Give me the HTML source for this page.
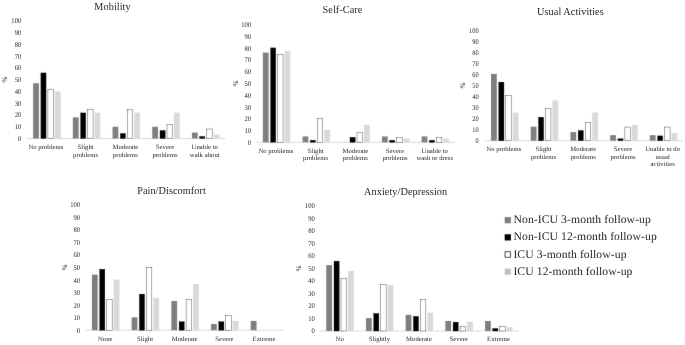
<!DOCTYPE html>
<html><head><meta charset="utf-8"><title>EQ-5D charts</title>
<style>html,body{margin:0;padding:0;background:#fff;}body{width:685px;height:345px;overflow:hidden;}svg{display:block;}text{font-family:"Liberation Serif", serif;fill:#262626;text-rendering:geometricPrecision;}</style>
</head><body>
<svg width="685" height="345" viewBox="0 0 685 345">
<defs>
<filter id="soft" x="0" y="0" width="685" height="345" filterUnits="userSpaceOnUse" color-interpolation-filters="sRGB"><feConvolveMatrix order="3" kernelMatrix="0.0052 0.0619 0.0052 0.0619 0.7314 0.0619 0.0052 0.0619 0.0052" edgeMode="duplicate" preserveAlpha="true"/></filter>
<filter id="softt" x="0" y="0" width="685" height="345" filterUnits="userSpaceOnUse" color-interpolation-filters="sRGB"><feConvolveMatrix order="3" kernelMatrix="0.0000 0.0038 0.0000 0.0038 0.9847 0.0038 0.0000 0.0038 0.0000" edgeMode="duplicate" preserveAlpha="false"/></filter>
</defs>
<rect x="0" y="0" width="685" height="345" fill="#ffffff"/>
<g filter="url(#soft)">
<rect x="0" y="0" width="685" height="345" fill="#ffffff"/>
<g>
<line x1="26.90" y1="138.50" x2="225.40" y2="138.50" stroke="#d0d0d0" stroke-width="0.8"/>
<rect x="33.15" y="83.23" width="5.75" height="55.27" fill="#7f7f7f"/>
<rect x="40.90" y="72.92" width="5.15" height="65.58" fill="#000" stroke="#000" stroke-width="0.30"/>
<rect x="47.90" y="89.39" width="5.45" height="49.11" fill="#fff" stroke="#1c1c1c" stroke-width="0.38"/>
<rect x="54.90" y="91.46" width="5.75" height="47.04" fill="#d9d9d9"/>
<rect x="72.85" y="117.33" width="5.75" height="21.17" fill="#7f7f7f"/>
<rect x="80.60" y="112.91" width="5.15" height="25.59" fill="#000" stroke="#000" stroke-width="0.30"/>
<rect x="87.60" y="109.38" width="5.45" height="29.12" fill="#fff" stroke="#1c1c1c" stroke-width="0.38"/>
<rect x="94.60" y="112.63" width="5.75" height="25.87" fill="#d9d9d9"/>
<rect x="112.55" y="126.74" width="5.75" height="11.76" fill="#7f7f7f"/>
<rect x="120.30" y="133.49" width="5.15" height="5.01" fill="#000" stroke="#000" stroke-width="0.30"/>
<rect x="127.30" y="109.38" width="5.45" height="29.12" fill="#fff" stroke="#1c1c1c" stroke-width="0.38"/>
<rect x="134.30" y="112.63" width="5.75" height="25.87" fill="#d9d9d9"/>
<rect x="152.25" y="126.74" width="5.75" height="11.76" fill="#7f7f7f"/>
<rect x="160.00" y="130.55" width="5.15" height="7.95" fill="#000" stroke="#000" stroke-width="0.30"/>
<rect x="167.00" y="124.32" width="5.45" height="14.18" fill="#fff" stroke="#1c1c1c" stroke-width="0.38"/>
<rect x="174.00" y="112.63" width="5.75" height="25.87" fill="#d9d9d9"/>
<rect x="191.95" y="132.62" width="5.75" height="5.88" fill="#7f7f7f"/>
<rect x="199.70" y="136.43" width="5.15" height="2.07" fill="#000" stroke="#000" stroke-width="0.30"/>
<rect x="206.70" y="129.02" width="5.45" height="9.48" fill="#fff" stroke="#1c1c1c" stroke-width="0.38"/>
<rect x="213.70" y="134.50" width="5.75" height="4.00" fill="#d9d9d9"/>
</g>
<g>
<line x1="256.60" y1="142.30" x2="455.10" y2="142.30" stroke="#d0d0d0" stroke-width="0.8"/>
<rect x="262.85" y="52.57" width="5.75" height="89.73" fill="#7f7f7f"/>
<rect x="270.60" y="47.91" width="5.15" height="94.39" fill="#000" stroke="#000" stroke-width="0.30"/>
<rect x="277.60" y="54.38" width="5.45" height="87.92" fill="#fff" stroke="#1c1c1c" stroke-width="0.38"/>
<rect x="284.60" y="51.16" width="5.75" height="91.14" fill="#d9d9d9"/>
<rect x="302.55" y="136.42" width="5.75" height="5.88" fill="#7f7f7f"/>
<rect x="310.30" y="140.23" width="5.15" height="2.07" fill="#000" stroke="#000" stroke-width="0.30"/>
<rect x="317.30" y="118.35" width="5.45" height="23.95" fill="#fff" stroke="#1c1c1c" stroke-width="0.38"/>
<rect x="324.30" y="129.83" width="5.75" height="12.47" fill="#d9d9d9"/>
<rect x="350.00" y="137.29" width="5.15" height="5.01" fill="#000" stroke="#000" stroke-width="0.30"/>
<rect x="357.00" y="132.58" width="5.45" height="9.72" fill="#fff" stroke="#1c1c1c" stroke-width="0.38"/>
<rect x="364.00" y="124.90" width="5.75" height="17.40" fill="#d9d9d9"/>
<rect x="381.95" y="136.42" width="5.75" height="5.88" fill="#7f7f7f"/>
<rect x="389.70" y="140.23" width="5.15" height="2.07" fill="#000" stroke="#000" stroke-width="0.30"/>
<rect x="396.70" y="137.64" width="5.45" height="4.66" fill="#fff" stroke="#1c1c1c" stroke-width="0.38"/>
<rect x="403.70" y="138.54" width="5.75" height="3.76" fill="#d9d9d9"/>
<rect x="421.65" y="136.42" width="5.75" height="5.88" fill="#7f7f7f"/>
<rect x="429.40" y="140.23" width="5.15" height="2.07" fill="#000" stroke="#000" stroke-width="0.30"/>
<rect x="436.40" y="137.64" width="5.45" height="4.66" fill="#fff" stroke="#1c1c1c" stroke-width="0.38"/>
<rect x="443.40" y="138.54" width="5.75" height="3.76" fill="#d9d9d9"/>
</g>
<g>
<line x1="484.80" y1="140.70" x2="683.30" y2="140.70" stroke="#d0d0d0" stroke-width="0.8"/>
<rect x="491.05" y="73.91" width="5.75" height="66.79" fill="#7f7f7f"/>
<rect x="498.80" y="82.14" width="5.15" height="58.56" fill="#000" stroke="#000" stroke-width="0.30"/>
<rect x="505.80" y="95.27" width="5.45" height="45.43" fill="#fff" stroke="#1c1c1c" stroke-width="0.38"/>
<rect x="512.80" y="112.55" width="5.75" height="28.15" fill="#d9d9d9"/>
<rect x="530.75" y="126.68" width="5.75" height="14.02" fill="#7f7f7f"/>
<rect x="538.50" y="117.24" width="5.15" height="23.46" fill="#000" stroke="#000" stroke-width="0.30"/>
<rect x="545.50" y="108.74" width="5.45" height="31.96" fill="#fff" stroke="#1c1c1c" stroke-width="0.38"/>
<rect x="552.50" y="100.40" width="5.75" height="40.30" fill="#d9d9d9"/>
<rect x="570.45" y="132.09" width="5.75" height="8.61" fill="#7f7f7f"/>
<rect x="578.20" y="130.49" width="5.15" height="10.21" fill="#000" stroke="#000" stroke-width="0.30"/>
<rect x="585.20" y="122.54" width="5.45" height="18.16" fill="#fff" stroke="#1c1c1c" stroke-width="0.38"/>
<rect x="592.20" y="112.55" width="5.75" height="28.15" fill="#d9d9d9"/>
<rect x="610.15" y="135.18" width="5.75" height="5.52" fill="#7f7f7f"/>
<rect x="617.90" y="138.77" width="5.15" height="1.93" fill="#000" stroke="#000" stroke-width="0.30"/>
<rect x="624.90" y="127.07" width="5.45" height="13.63" fill="#fff" stroke="#1c1c1c" stroke-width="0.38"/>
<rect x="631.90" y="125.02" width="5.75" height="15.68" fill="#d9d9d9"/>
<rect x="649.85" y="135.18" width="5.75" height="5.52" fill="#7f7f7f"/>
<rect x="657.60" y="135.90" width="5.15" height="4.80" fill="#000" stroke="#000" stroke-width="0.30"/>
<rect x="664.60" y="127.07" width="5.45" height="13.63" fill="#fff" stroke="#1c1c1c" stroke-width="0.38"/>
<rect x="671.60" y="132.97" width="5.75" height="7.73" fill="#d9d9d9"/>
</g>
<g>
<line x1="85.70" y1="330.20" x2="284.20" y2="330.20" stroke="#d0d0d0" stroke-width="0.8"/>
<rect x="91.95" y="274.65" width="5.75" height="55.55" fill="#7f7f7f"/>
<rect x="99.70" y="269.28" width="5.15" height="60.92" fill="#000" stroke="#000" stroke-width="0.30"/>
<rect x="106.70" y="299.51" width="5.45" height="30.69" fill="#fff" stroke="#1c1c1c" stroke-width="0.38"/>
<rect x="113.70" y="279.54" width="5.75" height="50.66" fill="#d9d9d9"/>
<rect x="131.65" y="317.28" width="5.75" height="12.92" fill="#7f7f7f"/>
<rect x="139.40" y="294.11" width="5.15" height="36.09" fill="#000" stroke="#000" stroke-width="0.30"/>
<rect x="146.40" y="267.53" width="5.45" height="62.67" fill="#fff" stroke="#1c1c1c" stroke-width="0.38"/>
<rect x="153.40" y="297.85" width="5.75" height="32.35" fill="#d9d9d9"/>
<rect x="171.35" y="300.98" width="5.75" height="29.22" fill="#7f7f7f"/>
<rect x="179.10" y="321.70" width="5.15" height="8.50" fill="#000" stroke="#000" stroke-width="0.30"/>
<rect x="186.10" y="299.63" width="5.45" height="30.57" fill="#fff" stroke="#1c1c1c" stroke-width="0.38"/>
<rect x="193.10" y="284.05" width="5.75" height="46.15" fill="#d9d9d9"/>
<rect x="211.05" y="323.93" width="5.75" height="6.27" fill="#7f7f7f"/>
<rect x="218.80" y="321.70" width="5.15" height="8.50" fill="#000" stroke="#000" stroke-width="0.30"/>
<rect x="225.80" y="315.43" width="5.45" height="14.77" fill="#fff" stroke="#1c1c1c" stroke-width="0.38"/>
<rect x="232.80" y="320.92" width="5.75" height="9.28" fill="#d9d9d9"/>
<rect x="250.75" y="320.92" width="5.75" height="9.28" fill="#7f7f7f"/>
</g>
<g>
<line x1="320.00" y1="331.00" x2="518.50" y2="331.00" stroke="#d0d0d0" stroke-width="0.8"/>
<rect x="326.25" y="265.09" width="5.75" height="65.91" fill="#7f7f7f"/>
<rect x="334.00" y="261.11" width="5.15" height="69.89" fill="#000" stroke="#000" stroke-width="0.30"/>
<rect x="341.00" y="278.53" width="5.45" height="52.47" fill="#fff" stroke="#1c1c1c" stroke-width="0.38"/>
<rect x="348.00" y="270.98" width="5.75" height="60.02" fill="#d9d9d9"/>
<rect x="365.95" y="318.09" width="5.75" height="12.91" fill="#7f7f7f"/>
<rect x="373.70" y="313.49" width="5.15" height="17.51" fill="#000" stroke="#000" stroke-width="0.30"/>
<rect x="380.70" y="284.29" width="5.45" height="46.71" fill="#fff" stroke="#1c1c1c" stroke-width="0.38"/>
<rect x="387.70" y="285.01" width="5.75" height="45.99" fill="#d9d9d9"/>
<rect x="405.65" y="314.84" width="5.75" height="16.16" fill="#7f7f7f"/>
<rect x="413.40" y="316.37" width="5.15" height="14.63" fill="#000" stroke="#000" stroke-width="0.30"/>
<rect x="420.40" y="299.70" width="5.45" height="31.30" fill="#fff" stroke="#1c1c1c" stroke-width="0.38"/>
<rect x="427.40" y="312.71" width="5.75" height="18.29" fill="#d9d9d9"/>
<rect x="445.35" y="320.98" width="5.75" height="10.02" fill="#7f7f7f"/>
<rect x="453.10" y="322.13" width="5.15" height="8.87" fill="#000" stroke="#000" stroke-width="0.30"/>
<rect x="460.10" y="326.52" width="5.45" height="4.48" fill="#fff" stroke="#1c1c1c" stroke-width="0.38"/>
<rect x="467.10" y="321.85" width="5.75" height="9.15" fill="#d9d9d9"/>
<rect x="485.05" y="320.98" width="5.75" height="10.02" fill="#7f7f7f"/>
<rect x="492.80" y="328.52" width="5.15" height="2.48" fill="#000" stroke="#000" stroke-width="0.30"/>
<rect x="499.80" y="326.52" width="5.45" height="4.48" fill="#fff" stroke="#1c1c1c" stroke-width="0.38"/>
<rect x="506.80" y="327.12" width="5.75" height="3.88" fill="#d9d9d9"/>
</g>
<g>
<rect x="504.70" y="217.10" width="6.20" height="6.20" fill="#7f7f7f"/>
<rect x="504.70" y="234.25" width="6.20" height="6.20" fill="#000"/>
<rect x="505.05" y="251.75" width="5.50" height="5.50" fill="#fff" stroke="#000" stroke-width="0.7"/>
<rect x="504.70" y="268.55" width="6.20" height="6.20" fill="#bfbfbf"/>
</g>
</g>
<g filter="url(#softt)">
<text transform="translate(112.50,9.95) scale(0.02083,0.02188)" font-size="499.2" text-anchor="middle" fill="#333333">Mobility</text>
<text transform="translate(21.40,140.99) scale(0.02083,0.02292)" font-size="321.6" text-anchor="end">0</text>
<text transform="translate(21.40,129.23) scale(0.02083,0.02292)" font-size="321.6" text-anchor="end">10</text>
<text transform="translate(21.40,117.47) scale(0.02083,0.02292)" font-size="321.6" text-anchor="end">20</text>
<text transform="translate(21.40,105.71) scale(0.02083,0.02292)" font-size="321.6" text-anchor="end">30</text>
<text transform="translate(21.40,93.95) scale(0.02083,0.02292)" font-size="321.6" text-anchor="end">40</text>
<text transform="translate(21.40,82.19) scale(0.02083,0.02292)" font-size="321.6" text-anchor="end">50</text>
<text transform="translate(21.40,70.43) scale(0.02083,0.02292)" font-size="321.6" text-anchor="end">60</text>
<text transform="translate(21.40,58.67) scale(0.02083,0.02292)" font-size="321.6" text-anchor="end">70</text>
<text transform="translate(21.40,46.91) scale(0.02083,0.02292)" font-size="321.6" text-anchor="end">80</text>
<text transform="translate(21.40,35.15) scale(0.02083,0.02292)" font-size="321.6" text-anchor="end">90</text>
<text transform="translate(21.40,23.39) scale(0.02083,0.02292)" font-size="321.6" text-anchor="end">100</text>
<text transform="translate(7.34,79.70) rotate(-90) scale(0.02083,0.02083)" font-size="355.2" text-anchor="middle" fill="#111">%</text>
<text transform="translate(45.95,149.30) scale(0.02083,0.02083)" font-size="324.0" text-anchor="middle">No problems</text>
<text transform="translate(85.65,149.30) scale(0.02083,0.02083)" font-size="324.0" text-anchor="middle">Slight</text>
<text transform="translate(85.65,156.60) scale(0.02083,0.02083)" font-size="324.0" text-anchor="middle">problems</text>
<text transform="translate(125.35,149.30) scale(0.02083,0.02083)" font-size="324.0" text-anchor="middle">Moderate</text>
<text transform="translate(125.35,156.60) scale(0.02083,0.02083)" font-size="324.0" text-anchor="middle">problems</text>
<text transform="translate(165.05,149.30) scale(0.02083,0.02083)" font-size="324.0" text-anchor="middle">Severe</text>
<text transform="translate(165.05,156.60) scale(0.02083,0.02083)" font-size="324.0" text-anchor="middle">problems</text>
<text transform="translate(204.75,149.30) scale(0.02083,0.02083)" font-size="324.0" text-anchor="middle">Unable to</text>
<text transform="translate(204.75,156.60) scale(0.02083,0.02083)" font-size="324.0" text-anchor="middle">walk about</text>
<text transform="translate(342.50,13.45) scale(0.02083,0.02188)" font-size="499.2" text-anchor="middle" fill="#333333">Self-Care</text>
<text transform="translate(251.30,144.79) scale(0.02083,0.02292)" font-size="321.6" text-anchor="end">0</text>
<text transform="translate(251.30,133.03) scale(0.02083,0.02292)" font-size="321.6" text-anchor="end">10</text>
<text transform="translate(251.30,121.27) scale(0.02083,0.02292)" font-size="321.6" text-anchor="end">20</text>
<text transform="translate(251.30,109.51) scale(0.02083,0.02292)" font-size="321.6" text-anchor="end">30</text>
<text transform="translate(251.30,97.75) scale(0.02083,0.02292)" font-size="321.6" text-anchor="end">40</text>
<text transform="translate(251.30,85.99) scale(0.02083,0.02292)" font-size="321.6" text-anchor="end">50</text>
<text transform="translate(251.30,74.23) scale(0.02083,0.02292)" font-size="321.6" text-anchor="end">60</text>
<text transform="translate(251.30,62.47) scale(0.02083,0.02292)" font-size="321.6" text-anchor="end">70</text>
<text transform="translate(251.30,50.71) scale(0.02083,0.02292)" font-size="321.6" text-anchor="end">80</text>
<text transform="translate(251.30,38.95) scale(0.02083,0.02292)" font-size="321.6" text-anchor="end">90</text>
<text transform="translate(251.30,27.19) scale(0.02083,0.02292)" font-size="321.6" text-anchor="end">100</text>
<text transform="translate(237.74,83.50) rotate(-90) scale(0.02083,0.02083)" font-size="355.2" text-anchor="middle" fill="#111">%</text>
<text transform="translate(275.95,152.70) scale(0.02083,0.02083)" font-size="324.0" text-anchor="middle">No problems</text>
<text transform="translate(315.65,152.70) scale(0.02083,0.02083)" font-size="324.0" text-anchor="middle">Slight</text>
<text transform="translate(315.65,160.00) scale(0.02083,0.02083)" font-size="324.0" text-anchor="middle">problems</text>
<text transform="translate(355.35,152.70) scale(0.02083,0.02083)" font-size="324.0" text-anchor="middle">Moderate</text>
<text transform="translate(355.35,160.00) scale(0.02083,0.02083)" font-size="324.0" text-anchor="middle">problems</text>
<text transform="translate(395.05,152.70) scale(0.02083,0.02083)" font-size="324.0" text-anchor="middle">Severe</text>
<text transform="translate(395.05,160.00) scale(0.02083,0.02083)" font-size="324.0" text-anchor="middle">problems</text>
<text transform="translate(434.75,152.70) scale(0.02083,0.02083)" font-size="324.0" text-anchor="middle">Unable to</text>
<text transform="translate(434.75,160.00) scale(0.02083,0.02083)" font-size="324.0" text-anchor="middle">wash or dress</text>
<text transform="translate(570.40,14.75) scale(0.02083,0.02188)" font-size="499.2" text-anchor="middle" fill="#333333">Usual Activities</text>
<text transform="translate(478.80,143.12) scale(0.02083,0.02292)" font-size="312.0" text-anchor="end">0</text>
<text transform="translate(478.80,132.08) scale(0.02083,0.02292)" font-size="312.0" text-anchor="end">10</text>
<text transform="translate(478.80,121.04) scale(0.02083,0.02292)" font-size="312.0" text-anchor="end">20</text>
<text transform="translate(478.80,110.00) scale(0.02083,0.02292)" font-size="312.0" text-anchor="end">30</text>
<text transform="translate(478.80,98.96) scale(0.02083,0.02292)" font-size="312.0" text-anchor="end">40</text>
<text transform="translate(478.80,87.92) scale(0.02083,0.02292)" font-size="312.0" text-anchor="end">50</text>
<text transform="translate(478.80,76.88) scale(0.02083,0.02292)" font-size="312.0" text-anchor="end">60</text>
<text transform="translate(478.80,65.84) scale(0.02083,0.02292)" font-size="312.0" text-anchor="end">70</text>
<text transform="translate(478.80,54.80) scale(0.02083,0.02292)" font-size="312.0" text-anchor="end">80</text>
<text transform="translate(478.80,43.76) scale(0.02083,0.02292)" font-size="312.0" text-anchor="end">90</text>
<text transform="translate(478.80,32.72) scale(0.02083,0.02292)" font-size="312.0" text-anchor="end">100</text>
<text transform="translate(465.14,85.50) rotate(-90) scale(0.02083,0.02083)" font-size="355.2" text-anchor="middle" fill="#111">%</text>
<text transform="translate(503.85,151.30) scale(0.02083,0.02083)" font-size="324.0" text-anchor="middle">No problems</text>
<text transform="translate(543.55,151.30) scale(0.02083,0.02083)" font-size="324.0" text-anchor="middle">Slight</text>
<text transform="translate(543.55,158.60) scale(0.02083,0.02083)" font-size="324.0" text-anchor="middle">problems</text>
<text transform="translate(583.25,151.30) scale(0.02083,0.02083)" font-size="324.0" text-anchor="middle">Moderate</text>
<text transform="translate(583.25,158.60) scale(0.02083,0.02083)" font-size="324.0" text-anchor="middle">problems</text>
<text transform="translate(622.95,151.30) scale(0.02083,0.02083)" font-size="324.0" text-anchor="middle">Severe</text>
<text transform="translate(622.95,158.60) scale(0.02083,0.02083)" font-size="324.0" text-anchor="middle">problems</text>
<text transform="translate(662.65,151.30) scale(0.02083,0.02083)" font-size="324.0" text-anchor="middle">Unable to do</text>
<text transform="translate(662.65,158.60) scale(0.02083,0.02083)" font-size="324.0" text-anchor="middle">usual</text>
<text transform="translate(662.65,165.90) scale(0.02083,0.02083)" font-size="324.0" text-anchor="middle">activities</text>
<text transform="translate(171.50,194.05) scale(0.02083,0.02188)" font-size="499.2" text-anchor="middle" fill="#333333">Pain/Discomfort</text>
<text transform="translate(80.20,332.69) scale(0.02083,0.02292)" font-size="321.6" text-anchor="end">0</text>
<text transform="translate(80.20,320.15) scale(0.02083,0.02292)" font-size="321.6" text-anchor="end">10</text>
<text transform="translate(80.20,307.61) scale(0.02083,0.02292)" font-size="321.6" text-anchor="end">20</text>
<text transform="translate(80.20,295.07) scale(0.02083,0.02292)" font-size="321.6" text-anchor="end">30</text>
<text transform="translate(80.20,282.53) scale(0.02083,0.02292)" font-size="321.6" text-anchor="end">40</text>
<text transform="translate(80.20,269.99) scale(0.02083,0.02292)" font-size="321.6" text-anchor="end">50</text>
<text transform="translate(80.20,257.45) scale(0.02083,0.02292)" font-size="321.6" text-anchor="end">60</text>
<text transform="translate(80.20,244.91) scale(0.02083,0.02292)" font-size="321.6" text-anchor="end">70</text>
<text transform="translate(80.20,232.37) scale(0.02083,0.02292)" font-size="321.6" text-anchor="end">80</text>
<text transform="translate(80.20,219.83) scale(0.02083,0.02292)" font-size="321.6" text-anchor="end">90</text>
<text transform="translate(80.20,207.29) scale(0.02083,0.02292)" font-size="321.6" text-anchor="end">100</text>
<text transform="translate(66.54,267.50) rotate(-90) scale(0.02083,0.02083)" font-size="355.2" text-anchor="middle" fill="#111">%</text>
<text transform="translate(105.25,340.50) scale(0.02083,0.02083)" font-size="324.0" text-anchor="middle">None</text>
<text transform="translate(144.95,340.50) scale(0.02083,0.02083)" font-size="324.0" text-anchor="middle">Slight</text>
<text transform="translate(184.65,340.50) scale(0.02083,0.02083)" font-size="324.0" text-anchor="middle">Moderate</text>
<text transform="translate(224.35,340.50) scale(0.02083,0.02083)" font-size="324.0" text-anchor="middle">Severe</text>
<text transform="translate(264.05,340.50) scale(0.02083,0.02083)" font-size="324.0" text-anchor="middle">Extreme</text>
<text transform="translate(405.60,194.65) scale(0.02083,0.02188)" font-size="499.2" text-anchor="middle" fill="#333333">Anxiety/Depression</text>
<text transform="translate(314.90,333.49) scale(0.02083,0.02292)" font-size="321.6" text-anchor="end">0</text>
<text transform="translate(314.90,320.96) scale(0.02083,0.02292)" font-size="321.6" text-anchor="end">10</text>
<text transform="translate(314.90,308.43) scale(0.02083,0.02292)" font-size="321.6" text-anchor="end">20</text>
<text transform="translate(314.90,295.90) scale(0.02083,0.02292)" font-size="321.6" text-anchor="end">30</text>
<text transform="translate(314.90,283.37) scale(0.02083,0.02292)" font-size="321.6" text-anchor="end">40</text>
<text transform="translate(314.90,270.84) scale(0.02083,0.02292)" font-size="321.6" text-anchor="end">50</text>
<text transform="translate(314.90,258.31) scale(0.02083,0.02292)" font-size="321.6" text-anchor="end">60</text>
<text transform="translate(314.90,245.78) scale(0.02083,0.02292)" font-size="321.6" text-anchor="end">70</text>
<text transform="translate(314.90,233.25) scale(0.02083,0.02292)" font-size="321.6" text-anchor="end">80</text>
<text transform="translate(314.90,220.72) scale(0.02083,0.02292)" font-size="321.6" text-anchor="end">90</text>
<text transform="translate(314.90,208.19) scale(0.02083,0.02292)" font-size="321.6" text-anchor="end">100</text>
<text transform="translate(300.64,268.35) rotate(-90) scale(0.02083,0.02083)" font-size="355.2" text-anchor="middle" fill="#111">%</text>
<text transform="translate(339.65,340.80) scale(0.02083,0.02083)" font-size="324.0" text-anchor="middle">No</text>
<text transform="translate(379.35,340.80) scale(0.02083,0.02083)" font-size="324.0" text-anchor="middle">Slightly</text>
<text transform="translate(419.05,340.80) scale(0.02083,0.02083)" font-size="324.0" text-anchor="middle">Moderate</text>
<text transform="translate(458.75,340.80) scale(0.02083,0.02083)" font-size="324.0" text-anchor="middle">Severe</text>
<text transform="translate(498.45,340.80) scale(0.02083,0.02083)" font-size="324.0" text-anchor="middle">Extreme</text>
<text transform="translate(513.40,223.20) scale(0.02083,0.02083)" font-size="568.8" fill="#2a2a2a">Non-ICU 3-month follow-up</text>
<text transform="translate(513.40,240.35) scale(0.02083,0.02083)" font-size="568.8" fill="#2a2a2a">Non-ICU 12-month follow-up</text>
<text transform="translate(513.40,257.50) scale(0.02083,0.02083)" font-size="568.8" fill="#2a2a2a">ICU 3-month follow-up</text>
<text transform="translate(513.40,274.65) scale(0.02083,0.02083)" font-size="568.8" fill="#2a2a2a">ICU 12-month follow-up</text>
</g>
</svg>
</body></html>
